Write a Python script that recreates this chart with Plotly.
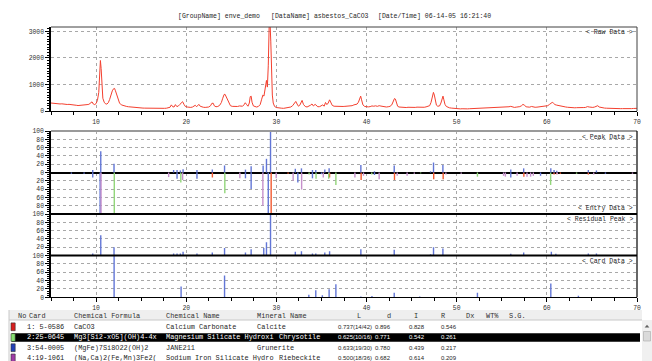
import plotly.graph_objects as go

# ---------------- raw diffraction pattern (2-theta / counts) ----------------
raw_2theta = [
    5.0, 5.2, 5.4, 5.6, 5.8, 6.0, 6.2, 6.4, 6.6, 6.8,
    7.0, 7.2, 7.4, 7.6, 7.8, 8.0, 8.2, 8.4, 8.6, 8.8,
    9.0, 9.2, 9.4, 9.55, 9.7, 9.85, 10.0, 10.15, 10.3, 10.4,
    10.48, 10.56, 10.65, 10.75, 10.9, 11.05, 11.2, 11.35, 11.5, 11.65,
    11.8, 11.95, 12.05, 12.15, 12.3, 12.45, 12.6, 12.8, 13.0, 13.2,
    13.4, 13.6, 13.8, 14.0, 14.2, 14.4, 14.6, 14.8, 15.0, 15.2,
    15.4, 15.6, 15.8, 16.0, 16.2, 16.4, 16.6, 16.8, 17.0, 17.2,
    17.4, 17.6, 17.8, 18.0, 18.2, 18.35, 18.5, 18.65, 18.8, 18.95,
    19.1, 19.3, 19.5, 19.6, 19.75, 19.9, 20.1, 20.3, 20.5, 20.7,
    20.9, 21.0, 21.15, 21.3, 21.4, 21.55, 21.7, 21.9, 22.1, 22.3,
    22.5, 22.7, 22.85, 23.0, 23.1, 23.3, 23.5, 23.7, 23.9, 24.05,
    24.2, 24.3, 24.45, 24.6, 24.75, 24.9, 25.1, 25.3, 25.5, 25.7,
    25.9, 26.1, 26.25, 26.4, 26.55, 26.7, 26.85, 27.0, 27.1, 27.2,
    27.3, 27.45, 27.6, 27.8, 28.0, 28.2, 28.35, 28.5, 28.62, 28.72,
    28.82, 28.9, 29.0, 29.1, 29.2, 29.3, 29.38, 29.46, 29.55, 29.65,
    29.8, 30.0, 30.2, 30.4, 30.6, 30.8, 31.0, 31.2, 31.4, 31.6,
    31.8, 32.0, 32.15, 32.3, 32.45, 32.6, 32.75, 32.85, 33.0, 33.2,
    33.4, 33.6, 33.8, 33.95, 34.1, 34.3, 34.45, 34.6, 34.8, 35.0,
    35.15, 35.3, 35.45, 35.6, 35.75, 35.9, 36.05, 36.2, 36.4, 36.6,
    36.8, 37.0, 37.2, 37.4, 37.6, 37.8, 38.0, 38.2, 38.4, 38.6,
    38.8, 38.95, 39.1, 39.25, 39.35, 39.45, 39.6, 39.8, 40.0, 40.2,
    40.4, 40.6, 40.8, 41.0, 41.2, 41.4, 41.6, 41.8, 42.0, 42.2,
    42.4, 42.6, 42.8, 42.95, 43.1, 43.2, 43.3, 43.45, 43.6, 43.8,
    44.0, 44.2, 44.4, 44.6, 44.8, 45.0, 45.2, 45.4, 45.6, 45.8,
    46.0, 46.2, 46.4, 46.6, 46.8, 47.0, 47.15, 47.3, 47.42, 47.52,
    47.62, 47.75, 47.9, 48.1, 48.25, 48.38, 48.48, 48.58, 48.7, 48.85,
    49.0, 49.2, 49.4, 49.6, 49.8, 50.0, 50.2, 50.4, 50.6, 50.8,
    51.0, 51.2, 51.4, 51.6, 51.8, 52.0, 52.2, 52.4, 52.6, 52.8,
    53.0, 53.2, 53.4, 53.6, 53.8, 54.0, 54.2, 54.4, 54.6, 54.8,
    55.0, 55.2, 55.4, 55.6, 55.8, 56.0, 56.2, 56.4, 56.6, 56.8,
    57.0, 57.2, 57.35, 57.5, 57.7, 57.9, 58.1, 58.3, 58.5, 58.7,
    58.9, 59.1, 59.3, 59.5, 59.7, 59.9, 60.1, 60.3, 60.45, 60.6,
    60.75, 60.9, 61.1, 61.3, 61.5, 61.7, 61.9, 62.1, 62.3, 62.5,
    62.7, 62.9, 63.1, 63.3, 63.5, 63.7, 63.9, 64.1, 64.3, 64.5,
    64.7, 64.9, 65.1, 65.3, 65.5, 65.65, 65.8, 66.0, 66.2, 66.4,
    66.6, 66.8, 67.0, 67.2, 67.4, 67.6, 67.8, 68.0, 68.2, 68.4,
    68.6, 68.8, 69.0, 69.2, 69.4, 69.6, 69.8, 70.0,
]
raw_counts = [
    300, 290, 285, 275, 280, 265, 270, 255, 260, 245,
    250, 235, 240, 225, 215, 205, 210, 200, 215, 225,
    240, 250, 290, 345, 260, 240, 280, 400, 700, 1350,
    1900, 1600, 900, 480, 330, 270, 260, 310, 430, 600,
    760, 840, 850, 760, 580, 420, 300, 230, 200, 185,
    170, 160, 150, 145, 140, 130, 125, 120, 115, 110,
    108, 105, 100, 98, 100, 95, 92, 95, 90, 95,
    98, 100, 105, 120, 140, 230, 160, 150, 240, 170,
    180, 250, 340, 350, 250, 170, 150, 140, 135, 150,
    200, 215, 160, 210, 250, 180, 150, 140, 135, 140,
    150, 200, 290, 290, 200, 160, 170, 210, 320, 480,
    620, 630, 520, 370, 260, 200, 175, 165, 160, 170,
    190, 200, 180, 230, 310, 240, 180, 300, 540, 560,
    330, 190, 160, 150, 170, 240, 420, 600, 560, 800,
    1100, 1150, 900, 1700, 3200, 3300, 2600, 1400, 600, 300,
    170, 130, 115, 110, 105, 100, 110, 105, 115, 150,
    200, 290, 360, 260, 180, 220, 330, 400, 250, 170,
    150, 175, 220, 265, 190, 250, 210, 160, 165, 200,
    230, 180, 320, 240, 300, 420, 300, 210, 180, 175,
    165, 160, 165, 170, 175, 180, 185, 190, 200, 230,
    250, 260, 330, 480, 560, 420, 230, 170, 150, 155,
    165, 190, 180, 195, 175, 200, 185, 170, 160, 150,
    160, 175, 230, 340, 470, 450, 290, 180, 150, 140,
    145, 135, 130, 140, 135, 130, 140, 135, 145, 140,
    150, 145, 140, 155, 165, 200, 320, 560, 700, 600,
    360, 220, 180, 190, 300, 520, 560, 420, 250, 170,
    140, 120, 110, 100, 95, 90, 85, 80, 85, 78,
    82, 80, 85, 88, 90, 95, 100, 95, 100, 110,
    105, 100, 110, 115, 110, 115, 120, 125, 120, 130,
    135, 140, 150, 130, 160, 175, 140, 135, 145, 150,
    165, 200, 250, 220, 160, 150, 145, 170, 150, 140,
    145, 150, 160, 170, 165, 175, 200, 250, 300, 325,
    290, 240, 220, 200, 185, 170, 160, 150, 140, 130,
    125, 130, 120, 125, 120, 130, 125, 130, 135, 165,
    150, 130, 135, 150, 190, 200, 150, 130, 120, 110,
    105, 100, 95, 100, 90, 95, 90, 92, 88, 90,
    85, 90, 88, 92, 90, 95, 100, 100,
]
raw_ticks = [0, 1000, 2000, 3000]

# ---------------- observed peak list (relative intensity, %) ----------------
peak_2theta = [9.63, 10.52, 11.99, 18.6, 18.98, 19.35, 19.65, 21.19, 22.89, 24.25,
               26.57, 27.2, 28.53, 28.9, 29.35, 32.1, 32.78, 34.0, 34.37, 35.37,
               35.85, 39.37, 40.88, 43.07, 47.1, 47.43, 48.47, 56.0, 57.43, 60.44,
               60.8, 61.1, 64.6, 65.5]
peak_int = [6, 51, 21, 6, 6, 5, 8, 6, 7, 17,
            7, 15, 17, 33, 100, 9, 10, 6, 6, 7,
            10, 18, 3, 17, 3, 24, 18, 7, 10, 10,
            6, 4, 6, 5]

# ---------------- identified phases (entry data, drawn downward) ----------------
calcite_2theta = [22.9, 29.42, 31.3, 35.9, 39.4, 43.1, 47.45, 48.5, 57.45, 60.8, 61.1, 61.5, 64.6]
calcite_int = [12, 100, 3, 12, 18, 18, 16, 16, 10, 5, 4, 3, 5]

chrysotile_2theta = [12.02, 19.4, 24.28, 33.63, 34.4, 35.8, 36.6, 40.58, 46.0, 52.3, 60.42, 63.3]
chrysotile_int = [100, 24, 50, 5, 15, 15, 30, 5, 2, 10, 30, 3]

grunerite_2theta = [7.26, 8.67, 9.63, 10.45, 18.98, 21.19, 26.57, 27.2, 29.1, 32.38,
                    34.0, 35.0, 40.88, 56.0, 59.3, 66.5]
grunerite_int = [3, 3, 12, 98, 15, 15, 14, 40, 100, 24,
                 14, 4, 6, 12, 8, 3]

riebeckite_2theta = [10.55, 18.05, 19.6, 25.95, 28.5, 29.98, 31.86, 32.8, 35.2, 38.71,
                     39.66, 41.4, 43.4, 44.5, 45.3, 48.8, 50.5, 55.2, 55.4, 56.7,
                     57.8, 58.2, 58.5, 61.15, 65.2, 69.5]
riebeckite_int = [100, 11, 18, 14, 80, 14, 20, 41, 12, 12,
                  8, 16, 8, 8, 3, 5, 3, 8, 10, 8,
                  10, 10, 8, 4, 5, 3]

# ---------------- residual peaks ----------------
residual_2theta = [9.63, 10.52, 11.99, 18.6, 18.98, 19.35, 19.65, 21.19, 22.89, 24.25,
                   26.57, 27.2, 28.6, 28.9, 29.35, 32.1, 32.78, 34.0, 34.37, 35.37,
                   35.9, 39.37, 43.07, 47.1, 47.43, 48.47, 56.0, 57.43, 60.5, 61.0,
                   64.6, 65.5]
residual_int = [5, 49, 20, 5, 5, 5, 9, 5, 7, 18,
                7, 15, 18, 32, 100, 9, 10, 5, 5, 7,
                10, 15, 14, 3, 20, 17, 4, 7, 9, 4,
                5, 5]

# ---------------- selected reference card (Chrysotile) ----------------
card_2theta = [12.0, 19.43, 24.25, 33.6, 34.37, 35.1, 35.85, 36.6, 39.37, 40.6,
               43.07, 45.9, 52.3, 60.44, 63.5]
card_int = [100, 26, 52, 6, 17, 5, 19, 31, 2, 3,
            11, 2, 11, 33, 4]

# ---------------- candidate list ----------------
table_header = ["No", "Card", "Chemical Formula", "Chemical Name", "Mineral Name",
                "L", "d", "I", "R", "Dx", "WT%", "S.G."]
card_numbers = ["1: 5-0586", "2:25-0645", "3:54-0005", "4:19-1061"]
formulas = ["CaCO3", "Mg3[Si2-xO5](OH)4-4x", "(MgFe)7Si8O22(OH)2", "(Na,Ca)2(Fe,Mn)3Fe2("]
chem_names = ["Calcium Carbonate", "Magnesium Silicate Hydroxi", "JANE211", "Sodium Iron Silicate Hydro"]
minerals = ["Calcite", "Chrysotile", "Grunerite", "Riebeckite"]
L_values = ["0.737(14/42)", "0.625(10/16)", "0.633(19/30)", "0.500(18/36)"]
d_values = ["0.896", "0.771", "0.780", "0.682"]
I_values = ["0.828", "0.542", "0.439", "0.614"]
R_values = ["0.546", "0.261", "0.217", "0.209"]
selected_row = 1

# ---------------- styling ----------------
phase_colors = ["#f25a30", "#92d67a", "#6276d6", "#c690cc"]
swatch_colors = ["#d81e1e", "#86e070", "#2440b8", "#a03ca8"]
PEAK_BLUE = "#6276d6"
RAW_RED = "#f4402f"
GRID = "#a8a8a8"
MONO = "Liberation Mono, Courier New, monospace"
SANS = "Liberation Sans, Arial, sans-serif"
TICKFONT = dict(family=MONO, size=6.4, color="#303030")

W, H = 652, 361
ML, MR = 51, 15
PW = W - ML - MR


def fx(px):
    return (px - ML) / PW


def fy(py):
    return 1 - py / H


def sticks(pos, hts, sign=1):
    xs, ys = [], []
    for p, h in zip(pos, hts):
        xs += [p, p, None]
        ys += [0, sign * h, None]
    return xs, ys


fig = go.Figure()

fig.add_trace(go.Scatter(x=raw_2theta, y=raw_counts, mode="lines",
                         line=dict(color=RAW_RED, width=1), xaxis="x", yaxis="y",
                         hoverinfo="skip"))

phases = [(calcite_2theta, calcite_int), (chrysotile_2theta, chrysotile_int),
          (grunerite_2theta, grunerite_int), (riebeckite_2theta, riebeckite_int)]
for (pos, hts), col in zip(phases, phase_colors):
    xs, ys = sticks(pos, hts, -1)
    fig.add_trace(go.Scatter(x=xs, y=ys, mode="lines", line=dict(color=col, width=1.4),
                             xaxis="x2", yaxis="y2", hoverinfo="skip"))

xs, ys = sticks(peak_2theta, peak_int)
fig.add_trace(go.Scatter(x=xs, y=ys, mode="lines", line=dict(color=PEAK_BLUE, width=1.4),
                         xaxis="x2", yaxis="y2", hoverinfo="skip"))
xs, ys = sticks(residual_2theta, residual_int)
fig.add_trace(go.Scatter(x=xs, y=ys, mode="lines", line=dict(color=PEAK_BLUE, width=1.4),
                         xaxis="x3", yaxis="y3", hoverinfo="skip"))
xs, ys = sticks(card_2theta, card_int)
fig.add_trace(go.Scatter(x=xs, y=ys, mode="lines", line=dict(color=PEAK_BLUE, width=1.4),
                         xaxis="x4", yaxis="y4", hoverinfo="skip"))


def x_axis(anchor, labels):
    ax = dict(domain=[0, 1], range=[5, 70], anchor=anchor, tick0=0, dtick=10,
              showgrid=True, gridcolor=GRID, griddash="dot", gridwidth=1,
              zeroline=False, showticklabels=labels, tickfont=TICKFONT)
    if labels:
        ax.update(ticks="outside", ticklen=4, tickwidth=1, tickcolor="#000",
                  showline=True, linecolor="#000", linewidth=1.2,
                  minor=dict(dtick=2.5, tick0=0, ticks="outside", ticklen=3,
                             tickcolor="#000", showgrid=False))
    else:
        ax.update(ticks="", showline=False)
    return ax


def y_axis(anchor, domain, rng, vals, text, minor_dt, zero=False):
    return dict(domain=domain, range=rng, anchor=anchor, tickvals=vals, ticktext=text,
                showgrid=True, gridcolor=GRID, griddash="dot", gridwidth=1,
                zeroline=zero, zerolinecolor="#000", zerolinewidth=2,
                ticks="outside", ticklen=4, tickwidth=1, tickcolor="#000",
                showline=True, linecolor="#000", linewidth=1.5, tickfont=TICKFONT,
                minor=dict(dtick=minor_dt, ticks="outside", ticklen=2,
                           tickcolor="#000", showgrid=False))


pk_vals = list(range(-100, 101, 20))
rs_vals = [20, 40, 60, 80]
cd_vals = list(range(0, 101, 20))

fig.update_layout(
    width=W, height=H, margin=dict(l=ML, r=MR, t=0, b=0, autoexpand=False),
    paper_bgcolor="white", plot_bgcolor="white", showlegend=False,
    xaxis=x_axis("y", True),
    xaxis2=x_axis("y2", False),
    xaxis3=x_axis("y3", False),
    xaxis4=x_axis("y4", True),
    yaxis=y_axis("x", [fy(111), fy(27)], [0, 3160], raw_ticks,
                 [str(v) for v in raw_ticks], 100),
    yaxis2=y_axis("x2", [fy(214), fy(131)], [-100, 100], pk_vals,
                  [str(abs(v)) for v in pk_vals], 5, zero=True),
    yaxis3=y_axis("x3", [fy(255.5), fy(214)], [0, 100], rs_vals,
                  [str(v) for v in rs_vals], 5),
    yaxis4=y_axis("x4", [fy(297.3), fy(255.5)], [0, 100], cd_vals,
                  [str(v) for v in cd_vals], 5),
)

shapes = [
    # frame of the raw pattern panel
    dict(type="line", xref="x domain", yref="y domain", x0=0, x1=1, y0=1, y1=1,
         line=dict(color="#404040", width=1)),
    dict(type="line", xref="x domain", yref="y domain", x0=1, x1=1, y0=0, y1=1,
         line=dict(color="#404040", width=1)),
    # stacked stick panels
    dict(type="line", xref="x2 domain", yref="y2 domain", x0=0, x1=1, y0=1, y1=1,
         line=dict(color="#9a9a9a", width=2)),
    dict(type="line", xref="x2 domain", yref="y2 domain", x0=0, x1=1, y0=0, y1=0,
         line=dict(color="#000", width=2)),
    dict(type="line", xref="x4 domain", yref="y4 domain", x0=0, x1=1, y0=1, y1=1,
         line=dict(color="#000", width=2)),
    dict(type="line", xref="x2 domain", yref="paper", x0=1, x1=1, y0=fy(297.3), y1=fy(131),
         line=dict(color="#000", width=1.2)),
]

annotations = []


def text_at(px, py, txt, family, size, color="#262626", anchor="left"):
    annotations.append(dict(xref="paper", yref="paper", x=fx(px), y=fy(py), text=txt,
                            showarrow=False, xanchor=anchor, yanchor="middle",
                            font=dict(family=family, size=size, color=color)))


# heading
for px, txt in [(175.5, "[GroupName] enve_demo"), (268.5, "[DataName] asbestos_CaCO3"),
                (376.0, "[Date/Time] 06-14-05 16:21:40")]:
    text_at(px, 16, txt, MONO, 6.5)

# panel captions
for py, txt in [(32.5, "&lt; Raw Data &gt;"), (137.5, "&lt; Peak Data &gt;"),
                (208.5, "&lt; Entry Data &gt;"), (220.0, "&lt; Residual Peak &gt;"),
                (261.0, "&lt; Card Data &gt;")]:
    text_at(635, py, txt, MONO, 6.5, anchor="right")

# candidate table
shapes += [
    dict(type="rect", xref="paper", yref="paper", x0=fx(9), x1=fx(642), y0=fy(320), y1=fy(310),
         fillcolor="#efefef", line=dict(width=0), layer="below"),
    dict(type="line", xref="paper", yref="paper", x0=fx(9), x1=fx(642), y0=fy(320), y1=fy(320),
         line=dict(color="#c8c8c8", width=1)),
    dict(type="line", xref="paper", yref="paper", x0=fx(9), x1=fx(9), y0=fy(361), y1=fy(310),
         line=dict(color="#c8c8c8", width=1)),
]
header_x = [15.5, 27.0, 71.5, 163.5, 255.0, 355.0, 385.0, 412.0, 438.5, 464.0, 483.5, 507.0]
for px, txt in zip(header_x, table_header):
    text_at(px, 315.5, txt, MONO, 6.9, "#303030")

row_y = [326.7, 337.4, 347.6, 357.8]
mineral_x = [255.0, 277.0, 255.0, 277.0]
text_cols = [(25.0, card_numbers), (71.5, formulas), (163.5, chem_names)]
num_cols = [(335.5, L_values), (372.5, d_values), (407.0, I_values), (438.5, R_values)]
for i, py in enumerate(row_y):
    sel = i == selected_row
    col = "#ffffff" if sel else "#262626"
    if sel:
        shapes.append(dict(type="rect", xref="paper", yref="paper", x0=fx(12), x1=fx(640),
                           y0=fy(py + 4.3), y1=fy(py - 4.2), fillcolor="#000",
                           line=dict(width=0), layer="below"))
    shapes.append(dict(type="rect", xref="paper", yref="paper", x0=fx(11), x1=fx(15.2),
                       y0=fy(py + 4), y1=fy(py - 3.8), fillcolor=swatch_colors[i],
                       line=dict(color="#303030", width=0.6)))
    for px, vals in text_cols:
        text_at(px, py, vals[i], MONO, 6.9, col)
    text_at(mineral_x[i], py, minerals[i], MONO, 6.9, col)
    for px, vals in num_cols:
        text_at(px, py, vals[i], SANS, 6.0, col)

# scroll bar
shapes += [
    dict(type="rect", xref="paper", yref="paper", x0=fx(642), x1=fx(652), y0=fy(361), y1=fy(320),
         fillcolor="#f0f0f0", line=dict(width=0)),
    dict(type="path", xref="paper", yref="paper",
         path=f"M {fx(644.6)},{fy(327.6)} L {fx(649.4)},{fy(327.6)} L {fx(647)},{fy(324.8)} Z",
         fillcolor="#606060", line=dict(width=0)),
    dict(type="rect", xref="paper", yref="paper", x0=fx(643.5), x1=fx(650.5), y0=fy(341),
         y1=fy(331.5), fillcolor="#dadada", line=dict(color="#a8a8a8", width=0.6)),
]

fig.update_layout(shapes=shapes, annotations=annotations)
fig.write_html("out.html")
